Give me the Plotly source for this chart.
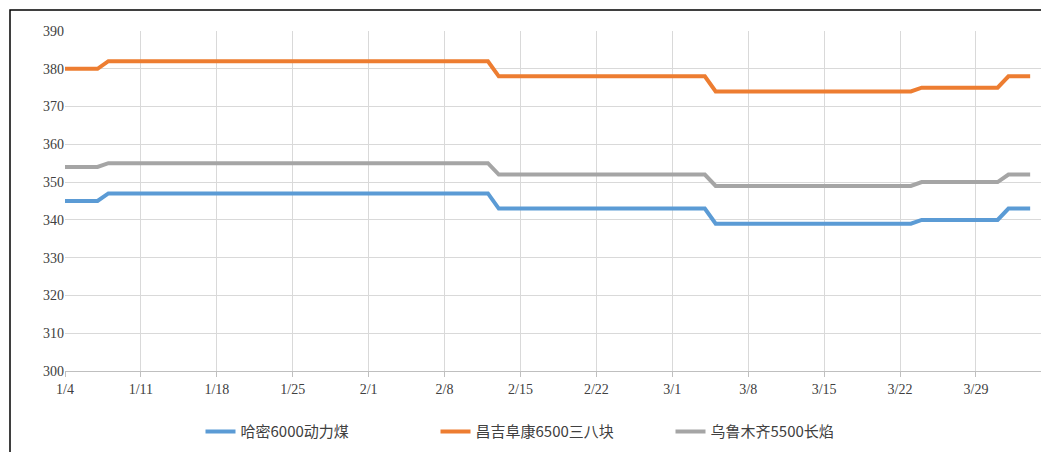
import datetime as dt
import plotly.graph_objects as go

# daily data from 1/4 (90 days)
start = dt.date(2021, 1, 4)
dates = [start + dt.timedelta(days=i) for i in range(90)]

hami = [345] * 4 + [347] * 36 + [343] * 20 + [339] * 19 + [340] * 8 + [343] * 3
changji = [380] * 4 + [382] * 36 + [378] * 20 + [374] * 19 + [375] * 8 + [378] * 3
wulumuqi = [354] * 4 + [355] * 36 + [352] * 20 + [349] * 19 + [350] * 8 + [352] * 3

names = ["哈密6000动力煤", "昌吉阜康6500三八块", "乌鲁木齐5500长焰"]
colors = ["#5B9BD5", "#ED7D31", "#A5A5A5"]

tick_dates = [start + dt.timedelta(days=7 * i) for i in range(13)]
tick_text = [f"{d.month}/{d.day}" for d in tick_dates]

fig = go.Figure()
for y, n, c in zip([hami, changji, wulumuqi], names, colors):
    fig.add_trace(go.Scatter(x=dates, y=y, name=n, mode="lines",
                             line=dict(color=c, width=4)))

W, H = 1049, 452
ml, mr, mt, mb = 57, 16, 23, 87
pw, ph = W - ml - mr, H - mt - mb
fig.add_shape(type="rect", xref="paper", yref="paper",
              x0=-(ml - 2) / pw, x1=1 + (mr - 3) / pw,
              y0=-(mb - 3) / ph, y1=1 + (mt - 2) / ph,
              line=dict(color="black", width=1.5))

fig.update_layout(
    width=W, height=H,
    margin=dict(l=ml, r=mr, t=mt, b=mb),
    plot_bgcolor="white", paper_bgcolor="white",
    font=dict(family="Liberation Serif, Noto Sans CJK SC", size=14, color="#404040"),
    xaxis=dict(range=[start, start + dt.timedelta(days=90.7)],
               tickvals=tick_dates, ticktext=tick_text, automargin=False,
               showgrid=True, gridcolor="#D9D9D9",
               showline=True, linecolor="#BFBFBF", ticks="outside",
               tickcolor="#BFBFBF", ticklen=5),
    yaxis=dict(range=[300, 390], dtick=10, showgrid=True, gridcolor="#D9D9D9",
               zeroline=False, showline=False, automargin=False),
    legend=dict(orientation="h", x=0.5, xanchor="center", y=-0.13, yanchor="top",
                entrywidth=190,
                font=dict(size=15, family="Noto Sans CJK SC, Liberation Serif")),
)

fig.write_html("out.html")
